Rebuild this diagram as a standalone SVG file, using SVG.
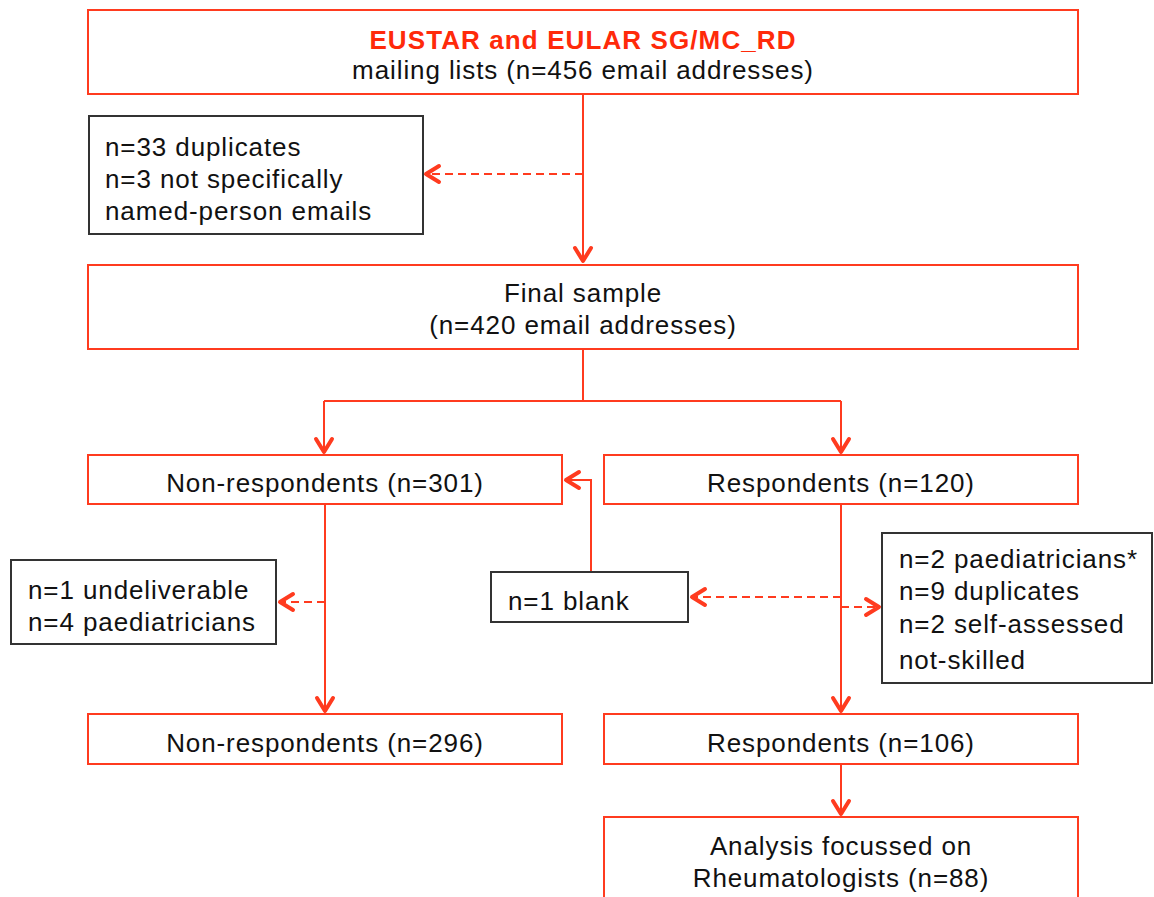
<svg xmlns="http://www.w3.org/2000/svg" width="1154" height="897" viewBox="0 0 1154 897">
  <style>
    .rbox { fill: #ffffff; stroke: #FF3B1F; stroke-width: 2; }
    .kbox { fill: #ffffff; stroke: #333333; stroke-width: 2; }
    .t { font-family: "Liberation Sans", Arial, sans-serif; font-size: 26px; fill: #111111; letter-spacing: 0.9px; }
    .c { text-anchor: middle; }
    .title { font-weight: bold; fill: #FF2A0A; letter-spacing: 1.1px; }
    .line { fill: none; stroke: #FF3B1F; stroke-width: 2; }
    .dash { fill: none; stroke: #FF3B1F; stroke-width: 2; stroke-dasharray: 8 5; }
  </style>
  <defs>
    <marker id="arr" markerUnits="userSpaceOnUse" viewBox="-16 -11 20 22" markerWidth="20" markerHeight="22" refX="0" refY="0" orient="auto" overflow="visible">
      <path d="M-13,-8 L0,0 L-13,8" fill="none" stroke="#FF3B1F" stroke-width="4" stroke-linecap="round" stroke-linejoin="round"/>
    </marker>
  </defs>

  <g id="connectors">
    <path class="line" d="M583,94 V261" marker-end="url(#arr)"/>
    <path class="dash" d="M583,174 H426" marker-end="url(#arr)"/>
    <path class="line" d="M583,349 V401 M324,401 H841"/>
    <path class="line" d="M324,401 V452" marker-end="url(#arr)"/>
    <path class="line" d="M841,401 V452" marker-end="url(#arr)"/>
    <path class="line" d="M591,572 V480 H566" marker-end="url(#arr)"/>
    <path class="line" d="M325,504 V711" marker-end="url(#arr)"/>
    <path class="dash" d="M325,602 H280" marker-end="url(#arr)"/>
    <path class="line" d="M841,504 V711" marker-end="url(#arr)"/>
    <path class="dash" d="M841,597 H692" marker-end="url(#arr)"/>
    <path class="dash" d="M841,607 H879" marker-end="url(#arr)"/>
    <path class="line" d="M841,764 V814" marker-end="url(#arr)"/>
  </g>

  <g id="node-mailing">
    <rect class="rbox" x="88" y="10" width="990" height="84"/>
    <text class="t c title" x="583" y="49">EUSTAR and EULAR SG/MC_RD</text>
    <text class="t c" x="583" y="79">mailing lists (n=456 email addresses)</text>
  </g>

  <g id="node-excluded1">
    <rect class="kbox" x="89" y="116" width="334" height="118"/>
    <text class="t" x="105" y="156">n=33 duplicates</text>
    <text class="t" x="105" y="188">n=3 not specifically</text>
    <text class="t" x="105" y="220">named-person emails</text>
  </g>

  <g id="node-final">
    <rect class="rbox" x="88" y="265" width="990" height="84"/>
    <text class="t c" x="583" y="302">Final sample</text>
    <text class="t c" x="583" y="334">(n=420 email addresses)</text>
  </g>

  <g id="node-nonresp301">
    <rect class="rbox" x="88" y="455" width="474" height="49"/>
    <text class="t c" x="325" y="492">Non-respondents (n=301)</text>
  </g>

  <g id="node-resp120">
    <rect class="rbox" x="604" y="455" width="474" height="49"/>
    <text class="t c" x="841" y="492">Respondents (n=120)</text>
  </g>

  <g id="node-undeliverable">
    <rect class="kbox" x="11" y="560" width="265" height="84"/>
    <text class="t" x="28" y="599">n=1 undeliverable</text>
    <text class="t" x="28" y="631">n=4 paediatricians</text>
  </g>

  <g id="node-blank">
    <rect class="kbox" x="491" y="572" width="197" height="50"/>
    <text class="t" x="508" y="610">n=1 blank</text>
  </g>

  <g id="node-excluded2">
    <rect class="kbox" x="882" y="533" width="270" height="150"/>
    <text class="t" x="899" y="568">n=2 paediatricians*</text>
    <text class="t" x="899" y="600">n=9 duplicates</text>
    <text class="t" x="899" y="633">n=2 self-assessed</text>
    <text class="t" x="899" y="669">not-skilled</text>
  </g>

  <g id="node-nonresp296">
    <rect class="rbox" x="88" y="714" width="474" height="50"/>
    <text class="t c" x="325" y="752">Non-respondents (n=296)</text>
  </g>

  <g id="node-resp106">
    <rect class="rbox" x="604" y="714" width="474" height="50"/>
    <text class="t c" x="841" y="752">Respondents (n=106)</text>
  </g>

  <g id="node-analysis">
    <rect class="rbox" x="604" y="817" width="474" height="100"/>
    <text class="t c" x="841" y="855">Analysis focussed on</text>
    <text class="t c" x="841" y="887">Rheumatologists (n=88)</text>
  </g>
</svg>
